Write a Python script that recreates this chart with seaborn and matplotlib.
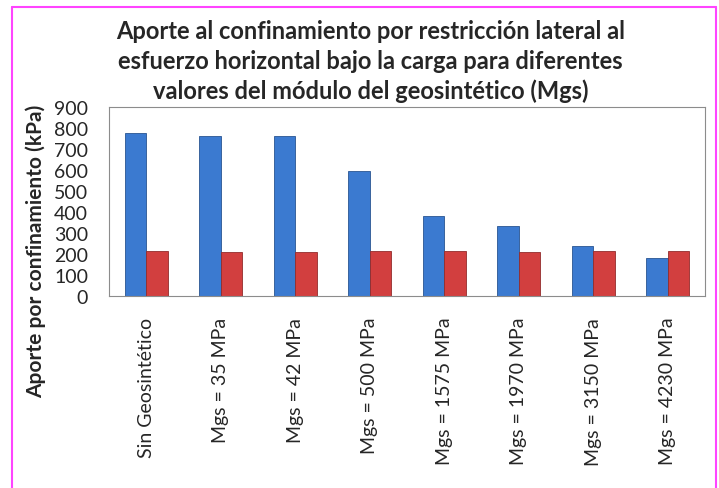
import matplotlib
matplotlib.use("Agg")
import matplotlib.pyplot as plt
import seaborn as sns
import pandas as pd
from matplotlib.lines import Line2D

categories = ["Sin Geosintético", "Mgs = 35 MPa", "Mgs = 42 MPa", "Mgs = 500 MPa",
              "Mgs = 1575 MPa", "Mgs = 1970 MPa", "Mgs = 3150 MPa", "Mgs = 4230 MPa"]
serie_a = [775, 763, 760, 594, 382, 335, 237, 181]
serie_b = [214, 211, 211, 213, 212, 211, 212, 212]
series_names = ["Serie 1", "Serie 2"]
yticks = [0, 100, 200, 300, 400, 500, 600, 700, 800, 900]

df = pd.DataFrame({
    "cat": categories * 2,
    "val": serie_a + serie_b,
    "serie": [series_names[0]] * len(categories) + [series_names[1]] * len(categories),
})

sns.set_style("white")
plt.rcParams["font.family"] = ["Lato", "DejaVu Sans"]

fig = plt.figure(figsize=(7.19, 4.89), dpi=100)
ax = fig.add_axes([0.1516, 0.3926, 0.8289, 0.3865])

sns.barplot(data=df, x="cat", y="val", hue="serie", order=categories,
            palette=["#3B7AD0", "#D23F3F"], width=0.58, ax=ax, legend=False,
            saturation=1, edgecolor="none")
for p in ax.patches:
    fc = p.get_facecolor()
    p.set_edgecolor(tuple(c * 0.7 for c in fc[:3]))
    p.set_linewidth(0.6)

ax.set_ylim(0, 900)
ax.set_yticks(yticks)
ax.set_yticklabels([str(v) for v in yticks], fontsize=14)
ax.set_xlim(-0.5, len(categories) - 0.5)
ax.set_xticks(range(len(categories)))
ax.set_xticklabels(categories, rotation=90, fontsize=14, va="top", ha="center")
ax.tick_params(axis="x", length=0, pad=15)
ax.tick_params(axis="y", length=0, pad=15)
ax.set_xlabel("")
ax.set_ylabel("Aporte por confinamiento (kPa)", fontsize=15, fontweight="bold")
ax.yaxis.set_label_coords(-0.106, 0.243)
for s in ax.spines.values():
    s.set_color("#8C8C8C")
    s.set_linewidth(0.8)

fig.text(0.515, 1 - 20/489, "Aporte al confinamiento por restricción lateral al\n"
         "esfuerzo horizontal bajo la carga para diferentes\n"
         "valores del módulo del geosintético (Mgs)",
         ha="center", va="top", fontsize=17, fontweight="bold", linespacing=1.36)

# pink frame
col = "#FF44FF"
fig.add_artist(Line2D([12/719, 12/719], [0.0, 1 - 8/489], transform=fig.transFigure, color=col, lw=1.5))
fig.add_artist(Line2D([12/719, 716/719], [1 - 8/489, 1 - 8/489], transform=fig.transFigure, color=col, lw=1.5))
fig.add_artist(Line2D([716/719, 716/719], [0.0, 1 - 8/489], transform=fig.transFigure, color=col, lw=1.5))

fig.savefig("out.png", dpi=100)
